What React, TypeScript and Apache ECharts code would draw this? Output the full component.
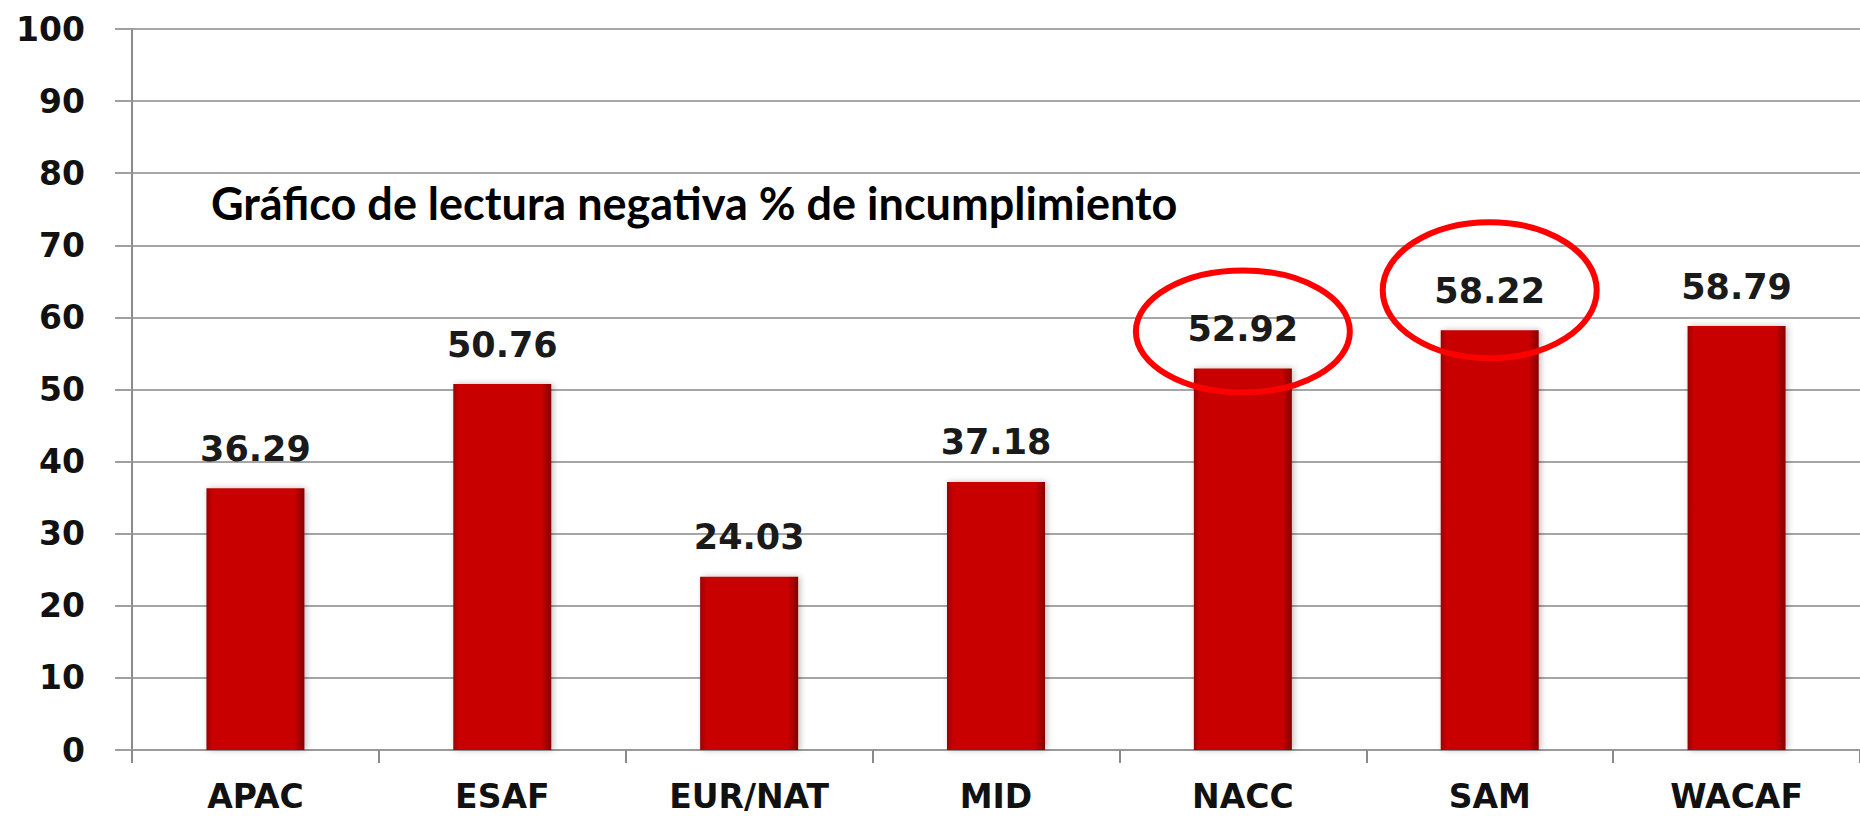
import React, { useEffect, useRef } from "react";
import * as echarts from "echarts";

const categories = ["APAC", "ESAF", "EUR/NAT", "MID", "NACC", "SAM", "WACAF"];
const values = [36.29, 50.76, 24.03, 37.18, 52.92, 58.22, 58.79];
const yTicks = { min: 0, max: 100, interval: 10 };
const titleText = "Gráfico de lectura negativa % de incumplimiento";
const highlighted = ["NACC", "SAM"];

export default function App() {
  const ref = useRef<HTMLDivElement>(null);
  useEffect(() => {
    if (!ref.current) return;
    const chart = echarts.init(ref.current, null, { renderer: "svg" });
    const barColor = new echarts.graphic.LinearGradient(0, 0, 1, 0, [
      { offset: 0, color: "#9a0000" },
      { offset: 0.06, color: "#c80404" },
      { offset: 0.9, color: "#c80404" },
      { offset: 1, color: "#850000" },
    ]);
    chart.setOption({
      animation: false,
      backgroundColor: "#ffffff",
      grid: { left: 132, top: 29, bottom: 66, right: -11, containLabel: false },
      xAxis: {
        type: "category",
        data: categories,
        axisLine: { show: true, lineStyle: { color: "#9a9a9a", width: 2 } },
        axisTick: { show: true, length: 13, alignWithLabel: false, lineStyle: { color: "#8a8a8a", width: 2 } },
        axisLabel: {
          margin: 30,
          color: "#111",
          fontFamily: "DejaVu Sans",
          fontWeight: "bold",
          fontSize: 33,
        },
      },
      yAxis: {
        type: "value",
        min: yTicks.min,
        max: yTicks.max,
        interval: yTicks.interval,
        axisLine: { show: true, lineStyle: { color: "#8a8a8a", width: 2 } },
        axisTick: { show: true, length: 17, lineStyle: { color: "#a0a0a0", width: 2 } },
        splitLine: { show: true, lineStyle: { color: "#a6a6a6", width: 2 } },
        axisLabel: {
          margin: 47,
          color: "#111",
          fontFamily: "DejaVu Sans",
          fontWeight: "bold",
          fontSize: 33,
        },
      },
      series: [
        {
          type: "bar",
          data: values,
          barWidth: 98,
          itemStyle: {
            color: barColor,
            shadowColor: "rgba(0,0,0,0.25)",
            shadowBlur: 6,
            shadowOffsetX: 2,
          },
          label: {
            show: true,
            position: "top",
            distance: 22,
            color: "#1a1a1a",
            fontFamily: "DejaVu Sans",
            fontWeight: "bold",
            fontSize: 35,
            formatter: (p: any) => p.value.toFixed(2),
          },
        },
      ],
    });

    const ellipses = highlighted.map((cat, i) => {
      const idx = categories.indexOf(cat);
      const [cx, cy] = chart.convertToPixel({ seriesIndex: 0 }, [idx, values[idx]]) as number[];
      const ry = i === 0 ? 61 : 68;
      const dy = i === 0 ? 37 : 40;
      return {
        type: "ellipse",
        shape: { cx, cy: cy - dy, rx: 107, ry },
        style: { fill: "none", stroke: "#ff0000", lineWidth: 6 },
        z: 100,
      };
    });

    chart.setOption({
      graphic: [
        {
          type: "text",
          left: 211,
          top: 180,
          style: {
            text: titleText,
            fill: "#000",
            font: "bold 45px Lato",
          },
        },
        ...ellipses,
      ],
    });

    return () => chart.dispose();
  }, []);
  return (
    <div
      ref={ref}
      style={{ position: "absolute", left: 0, top: 0, width: 1860, height: 816 }}
    />
  );
}
